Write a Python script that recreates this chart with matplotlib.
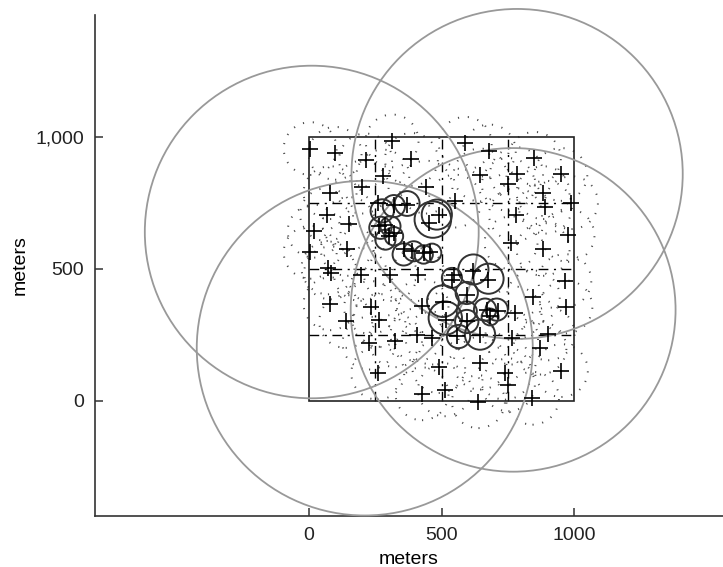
import numpy as np
import matplotlib
matplotlib.use('Agg')
import matplotlib.pyplot as plt
from matplotlib.patches import Circle, Rectangle
from matplotlib import rcParams

rcParams.update({'font.size': 14, 'font.family': ['Liberation Sans', 'DejaVu Sans']})

# sensor positions (meters)
sensor_x = [4, 98, 313, 213, 386, 589, 680, 850, 950, 278, 645, 752, 783, 200, 441,
            79, 883, 551, 892, 990, 66, 779, 150, 19, 977, 762, 144, 883, 4, 71,
            81, 194, 307, 411, 965, 846, 79, 232, 426, 969, 777, 138, 263, 902, 226,
            326, 407, 464, 764, 871, 259, 489, 645, 739, 952, 752, 426, 511, 639, 843]
sensor_y = [956, 938, 985, 913, 915, 976, 947, 919, 858, 852, 856, 820, 861, 810, 810,
            789, 789, 757, 734, 751, 706, 706, 672, 643, 627, 599, 574, 574, 563, 504,
            485, 479, 479, 479, 456, 394, 368, 354, 361, 356, 333, 301, 305, 254, 219,
            228, 251, 238, 238, 200, 105, 130, 143, 105, 115, 61, 27, 42, -3, 10]

# detections inside the two clusters
hit_x = [320, 261, 370, 489, 451, 263, 288, 320, 301, 360, 388, 432, 457,
         539, 545, 620, 677, 595, 507, 670, 714, 683, 517, 595, 557, 645]
hit_y = [744, 748, 744, 706, 675, 662, 668, 637, 624, 574, 567, 561, 563,
         460, 478, 491, 460, 403, 373, 346, 339, 320, 308, 301, 247, 251]

# solid circles (center, radius)
ring_x = [276, 320, 370, 467, 482, 269, 307, 288, 320, 357, 395, 432, 464,
          620, 677, 539, 595, 505, 514, 595, 664, 708, 683, 564, 645, 595]
ring_y = [720, 738, 748, 687, 706, 656, 662, 611, 624, 555, 567, 555, 561,
          498, 463, 466, 409, 378, 314, 301, 346, 346, 318, 244, 251, 339]
ring_r = [44, 42, 47, 69, 57, 42, 38, 38, 35, 42, 38, 35, 35,
          57, 57, 38, 42, 60, 63, 44, 42, 42, 32, 44, 57, 38]

# large coverage circles
big_x = [10, 785, 210, 770]
big_y = [640, 860, 200, 345]
big_r = [630, 625, 634, 613]

grid_pos = [250, 500, 750]
dot_r = 100

fig = plt.figure(figsize=(7.23, 5.67), dpi=100)
ax = fig.add_axes([0.1314, 0.0899, 0.8686, 0.8836])

for x, y in zip(sensor_x, sensor_y):
    ax.add_patch(Circle((x, y), dot_r, fill=False, ec='0.3', lw=1.4,
                        ls=(0, (0.6, 4.5)), zorder=1))

for g in grid_pos:
    ax.plot([g, g], [0, 1000], color='k', lw=1.0, ls=(0, (7, 4, 1.5, 4)), zorder=2)
    ax.plot([0, 1000], [g, g], color='k', lw=1.0, ls=(0, (7, 4, 1.5, 4)), zorder=2)

ax.add_patch(Rectangle((0, 0), 1000, 1000, fill=False, ec='#222222', lw=1.2, zorder=3))

for x, y, r in zip(big_x, big_y, big_r):
    ax.add_patch(Circle((x, y), r, fill=False, ec='#999999', lw=1.3, zorder=3,
                        clip_on=False))

for x, y, r in zip(ring_x, ring_y, ring_r):
    ax.add_patch(Circle((x, y), r, fill=False, ec='#333333', lw=1.4, zorder=4))

ax.plot(sensor_x, sensor_y, '+', color='k', ms=11, mew=1.2, zorder=5)
ax.plot(hit_x, hit_y, '+', color='k', ms=11, mew=1.2, zorder=5)

ax.set_xlim(-808, 1562)
ax.set_ylim(-436, 1462)

for s in ['top', 'right']:
    ax.spines[s].set_visible(False)
for s in ['left', 'bottom']:
    ax.spines[s].set_color('#333333')
    ax.spines[s].set_linewidth(1.2)

ax.set_xticks([0, 500, 1000])
ax.set_xticklabels(['0', '500', '1000'])
ax.set_yticks([0, 500, 1000])
ax.set_yticklabels(['0', '500', '1,000'])
ax.tick_params(direction='in', length=6, width=1.1, color='#333333', labelcolor='#222222', pad=8)

ax.set_xlabel('meters', labelpad=5)
ax.set_ylabel('meters', labelpad=5)

plt.savefig('out.png', dpi=100)
